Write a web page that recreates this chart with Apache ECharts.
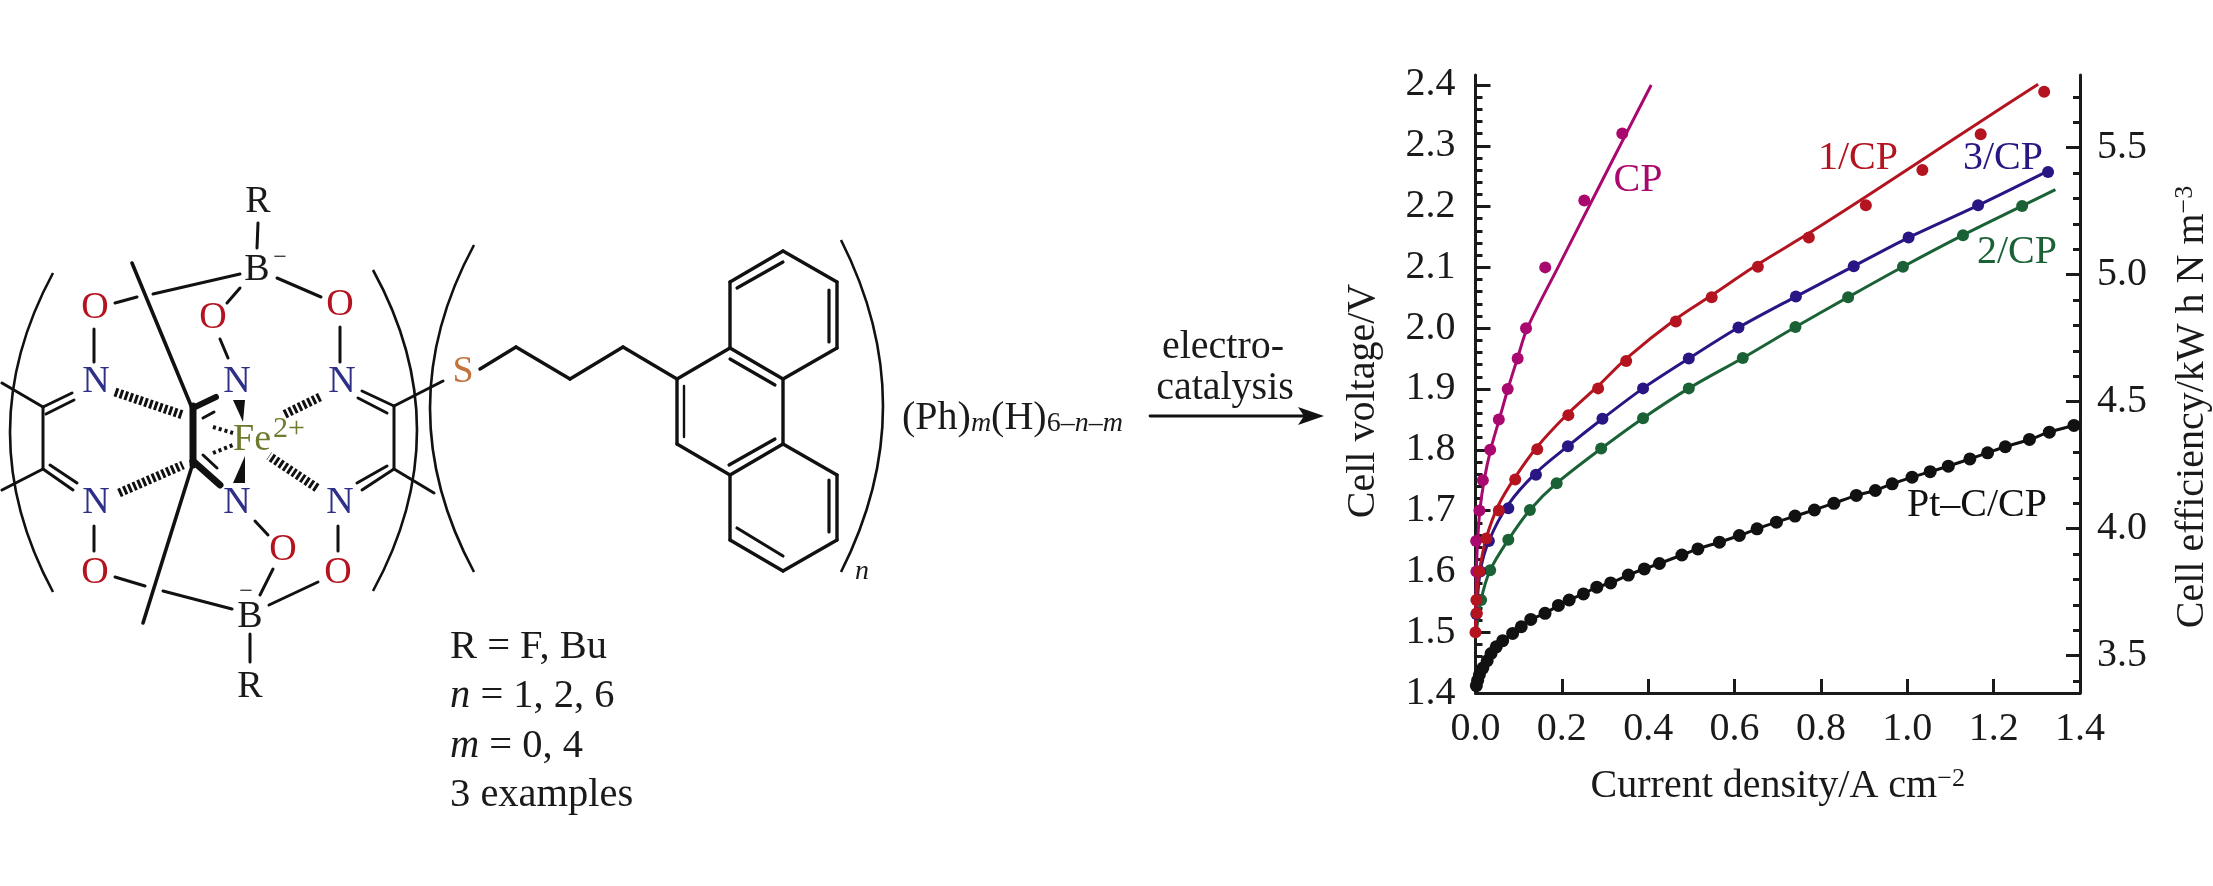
<!DOCTYPE html>
<html><head><meta charset="utf-8">
<style>html,body{margin:0;padding:0;background:#fff}#c{width:2213px;height:886px}</style>
<script src="https://cdn.jsdelivr.net/npm/echarts@6/dist/echarts.min.js"></script>
</head><body><div id="c"></div>
<script>
// ---------- chart data (current density / A cm-2, cell voltage / V) ----------
const xTicks = [0, 0.2, 0.4, 0.6, 0.8, 1.0, 1.2, 1.4];
const voltageTicks = [1.4, 1.5, 1.6, 1.7, 1.8, 1.9, 2.0, 2.1, 2.2, 2.3, 2.4];
const efficiencyTicks = [3.5, 4.0, 4.5, 5.0, 5.5];
const voltageMinor = [1.42,1.44,1.46,1.48,1.52,1.54,1.56,1.58,1.62,1.64,1.66,1.68,1.72,1.74,1.76,1.78,1.82,1.84,1.86,1.88,1.92,1.94,1.96,1.98,2.02,2.04,2.06,2.08,2.12,2.14,2.16,2.18,2.22,2.24,2.26,2.28,2.32,2.34,2.36,2.38];
const efficiencyMinor = [3.4,3.6,3.7,3.8,3.9,4.1,4.2,4.3,4.4,4.6,4.7,4.8,4.9,5.1,5.2,5.3,5.4,5.6,5.7];

const cpPoints = [[0.002,1.6],[0.0015,1.65],[0.009,1.70],[0.017,1.75],[0.034,1.80],[0.054,1.85],[0.0746,1.90],[0.0976,1.95],[0.117,2.0],[0.1615,2.10],[0.252,2.21],[0.34,2.32]];
const cpFit = [[0,1.5],[0.002,1.6],[0.005,1.65],[0.01,1.70],[0.02,1.75],[0.035,1.80],[0.055,1.85],[0.075,1.90],[0.097,1.95],[0.12,2.0],[0.191,2.10],[0.29,2.238],[0.349,2.32],[0.407,2.40]];

const redPoints = [[0,1.50],[0.003,1.531],[0.002,1.553],[0.009,1.60],[0.025,1.654],[0.054,1.70],[0.092,1.751],[0.143,1.801],[0.215,1.857],[0.284,1.901],[0.349,1.946],[0.464,2.011],[0.547,2.051],[0.654,2.101],[0.772,2.149],[0.904,2.202],[1.035,2.26],[1.17,2.319],[1.317,2.389]];
const redFit = [[0,1.49],[0.002,1.55],[0.009,1.60],[0.025,1.655],[0.054,1.71],[0.092,1.755],[0.143,1.805],[0.215,1.86],[0.284,1.905],[0.349,1.95],[0.464,2.015],[0.547,2.054],[0.654,2.105],[0.772,2.156],[0.904,2.216],[1.035,2.277],[1.17,2.34],[1.303,2.401]];

const bluePoints = [[0.002,1.53],[0.011,1.60],[0.031,1.65],[0.076,1.704],[0.14,1.759],[0.214,1.806],[0.294,1.851],[0.388,1.901],[0.494,1.95],[0.609,2.001],[0.742,2.052],[0.876,2.102],[1.003,2.149],[1.164,2.202],[1.326,2.257]];
const blueFit = [[0,1.5],[0.002,1.53],[0.011,1.60],[0.031,1.65],[0.076,1.71],[0.14,1.762],[0.214,1.806],[0.294,1.851],[0.388,1.901],[0.494,1.95],[0.609,2.001],[0.742,2.052],[0.876,2.102],[1.003,2.149],[1.164,2.202],[1.33,2.26]];

const greenPoints = [[0.013,1.553],[0.034,1.602],[0.076,1.652],[0.126,1.701],[0.188,1.745],[0.291,1.802],[0.388,1.852],[0.494,1.901],[0.619,1.951],[0.741,2.002],[0.863,2.051],[0.99,2.101],[1.129,2.153],[1.266,2.201]];
const greenFit = [[0,1.49],[0.013,1.553],[0.034,1.602],[0.076,1.652],[0.126,1.701],[0.188,1.745],[0.291,1.802],[0.388,1.852],[0.494,1.901],[0.619,1.951],[0.741,2.002],[0.863,2.051],[0.99,2.101],[1.129,2.153],[1.266,2.201],[1.343,2.228]];

const ptPoints = [[0.002,1.412],[0.005,1.421],[0.009,1.43],[0.017,1.441],[0.027,1.453],[0.036,1.465],[0.048,1.476],[0.063,1.486],[0.086,1.498],[0.106,1.509],[0.128,1.521],[0.161,1.531],[0.192,1.544],[0.217,1.553],[0.25,1.563],[0.281,1.574],[0.313,1.581],[0.354,1.594],[0.391,1.604],[0.426,1.613],[0.478,1.627],[0.515,1.637],[0.565,1.648],[0.611,1.659],[0.652,1.67],[0.697,1.681],[0.74,1.691],[0.785,1.701],[0.83,1.712],[0.882,1.725],[0.926,1.733],[0.965,1.744],[1.011,1.755],[1.053,1.764],[1.095,1.773],[1.145,1.785],[1.186,1.795],[1.227,1.805],[1.283,1.817],[1.329,1.829],[1.386,1.84]];

const COL = {cp:'#a9096f', red:'#b3141f', blue:'#2a1584', green:'#1b6136', pt:'#111111', ink:'#1a1a1a'};
const SERIF = '"Liberation Serif", "Times New Roman", serif';

// ---------- drawing helpers for the reaction scheme (not chart data) ----------
function txt(x, y, text, size, fill, extra) {
  return {type:'text', silent:true, z:20, style:Object.assign({x, y, text, fontFamily:SERIF, fontSize:size, fill:fill||COL.ink, align:'center', verticalAlign:'middle'}, extra||{})};
}
function seg(b) {
  return {type:'line', silent:true, z:10, shape:{x1:b[0],y1:b[1],x2:b[2],y2:b[3]}, style:{stroke:'#111', lineWidth:b[4]||3, lineCap:'round', lineDash:b[5]||null}};
}
function hash(b) {
  return {type:'line', silent:true, z:10, shape:{x1:b[0],y1:b[1],x2:b[2],y2:b[3]}, style:{stroke:'#111', lineWidth:b[4], lineCap:'butt', lineDash:b[5]}};
}
function arc(a) {
  return {type:'bezierCurve', silent:true, z:10, shape:{x1:a[0],y1:a[1],x2:a[2],y2:a[3],cpx1:a[4],cpy1:a[5]}, style:{stroke:'#111', lineWidth:2.6, fill:null}};
}
function poly(pts) { return {type:'polygon', silent:true, z:10, shape:{points:pts}, style:{fill:'#111'}}; }

const schemeBonds = [
 [258,223,257,248],[240,274,153,294],[137,297,115,303],[240,288,227,303],[277,278,321,297],
 [94,329,94,362],[220,339,228,358],[340,327,340,362],
 [132,263,192,408,3.6],[193,406,193,465,7],
 [43,407,43,469],[43,407,72,393],[46,414,74,400],[2,383,43,407],[2,490,43,469],[43,469,73,490],[50,465,77,483],
 [394,406,394,469],[362,391,394,406],[358,398,387,413],[394,406,443,381],
 [394,469,362,490],[387,466,357,483],[394,469,434,493],
 [193,408,216,397,6],[203,418,214,412],[193,461,220,485,7],[203,455,217,468],
 [193,463,143,623,3.6],
 [115,577,145,586],[163,591,232,609],[273,569,260,595],[318,582,269,605],
 [94,526,94,551],[255,521,268,535],[338,526,338,551],[250,634,250,662],
 // chain
 [480,369,516,347,3.4],[516,347,570,379,3.4],[570,379,623,347,3.4],[623,347,677,379,3.4],
 // phenanthrene
 [677,379,730,348,3.4],[730,348,783,379,3.4],[783,379,783,444,3.4],[783,444,730,475,3.4],[730,475,677,444,3.4],[677,444,677,379,3.4],
 [730,348,730,282,3.4],[730,282,783,251,3.4],[783,251,837,282,3.4],[837,282,837,348,3.4],[837,348,783,379,3.4],
 [783,444,837,475,3.4],[837,475,837,540,3.4],[837,540,783,571,3.4],[783,571,730,540,3.4],[730,540,730,475,3.4],
 [737,288,783,262,3.2],[829,290,829,342,3.2],[730,359,775,385,3.2],[684,386,684,437,2.4],[729,465,775,439,3.2],
 [829,480,829,532,3.2],[737,528,783,556,3.2],
 // arrow shaft
 [1150,416,1303,416,2.8]
];
const schemeHash = [
 [115,392,183,415,9,[3,2.2]],[119,493,183,465,9,[3,2.2]],[320,397,283,415,9,[3,2.2]],[317,488,269,456,9,[3,2.2]],
 [213,427,233,433,4,[3,3]],[213,453,233,445,4,[3,3]]
];
const schemeArcs = [[53,273,53,592,-33,432],[373,270,373,591,461,430],[474,245,474,572,386,408],[841,240,841,572,925,406]];

const richI = {i:{fontFamily:SERIF,fontSize:40.5,fontStyle:'italic',fill:COL.ink}};
const graphics = [].concat(
  schemeBonds.map(seg), schemeHash.map(hash), schemeArcs.map(arc),
  [poly([[233,400],[245,400],[243,422]]), poly([[245,456],[233,483],[245,483]]),
   poly([[1298,407],[1324,416],[1298,425],[1304,416]])],
  [
   txt(258,202,'R',38), txt(257,270,'B',38), txt(280,258,'−',24),
   txt(95,308,'O',38,COL.red), txt(213,318,'O',38,COL.red), txt(340,305,'O',38,COL.red),
   txt(96,382,'N',38,'#2e2f86'), txt(237,382,'N',38,'#2e2f86'), txt(342,382,'N',38,'#2e2f86'),
   txt(252,440,'Fe',38,'#6f7a2e'), txt(289,429,'2+',30,'#6f7a2e'),
   txt(463,372,'S',38,'#c4713a'),
   txt(96,503,'N',38,'#2e2f86'), txt(237,503,'N',38,'#2e2f86'), txt(340,503,'N',38,'#2e2f86'),
   txt(95,573,'O',38,COL.red), txt(283,550,'O',38,COL.red), txt(338,573,'O',38,COL.red),
   txt(250,617,'B',38), txt(246,592,'−',24), txt(250,687,'R',38),
   txt(862,572,'n',28,COL.ink,{fontStyle:'italic'}),
   txt(450,647,'R = F, Bu',40.5,COL.ink,{align:'left'}),
   txt(450,696,'{i|n} = 1, 2, 6',40.5,COL.ink,{align:'left',rich:richI}),
   txt(450,746,'{i|m} = 0, 4',40.5,COL.ink,{align:'left',rich:richI}),
   txt(450,795,'3 examples',40.5,COL.ink,{align:'left'}),
   txt(902,418,'(Ph){a|m}(H){b|6–}{a|n}{b|–}{a|m}',40,COL.ink,{align:'left',rich:{
     a:{fontFamily:SERIF,fontSize:28,fontStyle:'italic',fill:COL.ink,verticalAlign:'bottom'},
     b:{fontFamily:SERIF,fontSize:28,fill:COL.ink,verticalAlign:'bottom'}}}),
   txt(1223,347,'electro-',40), txt(1225,388,'catalysis',40),
   // series labels on the plot
   txt(1638,180,'CP',40,COL.cp), txt(1858,158,'1/CP',40,COL.red), txt(2003,158,'3/CP',40,COL.blue),
   txt(2017,252,'2/CP',40,COL.green), txt(1977,505,'Pt–C/CP',40,COL.pt)
  ]
);

// ---------- ECharts option ----------
const labelStyle = {fontFamily:SERIF, fontSize:40, color:COL.ink};
const supRich = {sup:{fontFamily:SERIF, fontSize:26, color:COL.ink, verticalAlign:'top'}};
const axisLine = {show:true, onZero:false, lineStyle:{color:COL.ink, width:3}};
const tickMajor = {lineStyle:{color:COL.ink, width:3}};

function fitLine(name, data, color) {
  return {name, type:'line', data, smooth:0.3, showSymbol:false, clip:false, z:3, lineStyle:{color, width:3}, itemStyle:{color}};
}
function dots(name, data, color, size) {
  return {name, type:'scatter', data, symbol:'circle', symbolSize:size, clip:false, z:4, itemStyle:{color, opacity:1}};
}

const option = {
  animation:false,
  backgroundColor:'#fff',
  grid:{left:1475.5, right:130, top:75, bottom:193, containLabel:false},
  xAxis:{
    type:'value', min:0, max:1.4, interval:0.2, position:'bottom',
    name:'Current density/A cm{sup|−2}', nameLocation:'middle', nameGap:73,
    nameTextStyle:Object.assign({}, labelStyle, {rich:supRich}),
    axisLine, axisTick:Object.assign({show:true, inside:true, length:14, customValues:xTicks}, tickMajor),
    axisLabel:Object.assign({customValues:xTicks, margin:16, formatter:v=>v.toFixed(1)}, labelStyle),
    splitLine:{show:false}
  },
  yAxis:[
    {type:'value', min:1.4, max:2.4164, position:'left',
     name:'Cell voltage/V', nameLocation:'middle', nameRotate:90, nameGap:92,
     nameTextStyle:Object.assign({}, labelStyle, {padding:[0,34,0,0]}),
     axisLine, axisTick:Object.assign({show:true, inside:true, length:15, customValues:voltageTicks}, tickMajor),
     axisLabel:Object.assign({customValues:voltageTicks, margin:20, formatter:v=>v.toFixed(1)}, labelStyle),
     splitLine:{show:false}},
    {type:'value', min:1.4, max:2.4164, position:'left',
     axisLine:{show:false}, axisTick:Object.assign({show:true, inside:true, length:7, customValues:voltageMinor}, tickMajor),
     axisLabel:{show:false}, splitLine:{show:false}},
    {type:'value', min:3.353, max:5.786, position:'right',
     name:'Cell efficiency/kW h N m{sup|−3}', nameLocation:'middle', nameRotate:90, nameGap:92,
     nameTextStyle:Object.assign({}, labelStyle, {rich:supRich, padding:[0,46,0,0]}),
     axisLine, axisTick:Object.assign({show:true, inside:true, length:14, customValues:efficiencyTicks}, tickMajor),
     axisLabel:Object.assign({customValues:efficiencyTicks, margin:17, formatter:v=>v.toFixed(1)}, labelStyle),
     splitLine:{show:false}},
    {type:'value', min:3.353, max:5.786, position:'right',
     axisLine:{show:false}, axisTick:Object.assign({show:true, inside:true, length:7, customValues:efficiencyMinor}, tickMajor),
     axisLabel:{show:false}, splitLine:{show:false}}
  ],
  series:[
    fitLine('Pt–C/CP', ptPoints, COL.pt), dots('Pt–C/CP', ptPoints, COL.pt, 13),
    fitLine('2/CP', greenFit, COL.green), dots('2/CP', greenPoints, COL.green, 12),
    fitLine('3/CP', blueFit, COL.blue), dots('3/CP', bluePoints, COL.blue, 12),
    fitLine('CP', cpFit, COL.cp), dots('CP', cpPoints, COL.cp, 12),
    fitLine('1/CP', redFit, COL.red), dots('1/CP', redPoints, COL.red, 12)
  ],
  graphic:{elements:graphics}
};
echarts.init(document.getElementById('c'), null, {renderer:'canvas'}).setOption(option);
</script>
</body></html>
